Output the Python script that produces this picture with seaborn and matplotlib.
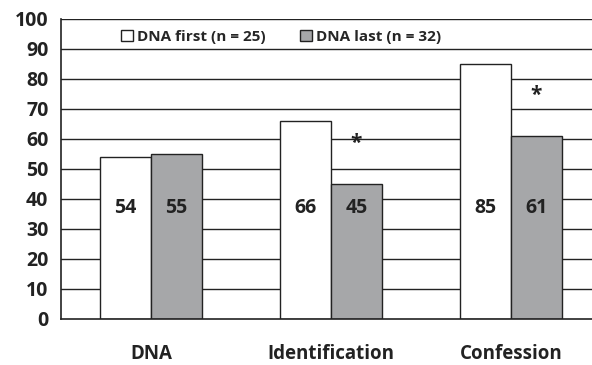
import numpy as np
import pandas as pd
import matplotlib
matplotlib.use("Agg")
from matplotlib import pyplot as plt
import seaborn as sns

categories = ["DNA", "Identification", "Confession"]
groups = ["DNA first (n = 25)", "DNA last (n = 32)"]
dna_first = [54, 66, 85]
dna_last = [55, 45, 61]
significant = [False, True, True]

data = pd.DataFrame({
    "category": categories * 2,
    "group": [groups[0]] * 3 + [groups[1]] * 3,
    "value": dna_first + dna_last,
})

sns.set_style("white")
plt.rcParams["font.family"] = ["Open Sans", "DejaVu Sans"]

fig = plt.figure(figsize=(5.92, 3.65), dpi=100)
ax = fig.add_axes([61 / 592, 1 - 319 / 365, 540 / 592, 300 / 365])

sns.barplot(
    data=data, x="category", y="value", hue="group",
    palette=["white", "#a6a7a9"], width=0.567, saturation=1.0,
    edgecolor="#222222", linewidth=1.0, ax=ax, zorder=3, legend=True,
)

ax.set_ylim(0, 100)
ax.set_xlim(-0.5, 2.5)
ax.set_yticks(np.arange(0, 101, 10))
for y in np.arange(10, 101, 10):
    ax.axhline(y, color="#222222", lw=1.0, zorder=1)

# bar value labels
for cont in ax.containers:
    for rect in cont:
        ax.text(rect.get_x() + rect.get_width() / 2, 37, "%d" % rect.get_height(),
                ha="center", va="center", fontsize=14, weight="bold",
                color="#222222", zorder=5)

# significance markers
for i, sig in enumerate(significant):
    if sig:
        rect = ax.containers[1][i]
        ax.text(rect.get_x() + rect.get_width() / 2, rect.get_height() + 13.5, "*",
                ha="center", va="center", fontsize=15, weight="bold", color="#222222")

ax.set_xlabel("")
ax.set_ylabel("")
ax.set_xticks([0, 1, 2])
ax.set_xticklabels(categories, fontsize=13.5, weight="bold", color="#222222")
ax.tick_params(axis="x", length=0, pad=18)
ax.set_xticks([-0.5, 0.5, 1.5, 2.5], minor=True)
ax.tick_params(axis="x", which="minor", length=6, width=1, color="#222222", direction="out")
ax.tick_params(axis="y", length=6, width=1, color="#222222", direction="out",
               labelsize=14, labelcolor="#222222", pad=3)
plt.setp(ax.get_yticklabels(), weight="bold")

for s in ["top", "right"]:
    ax.spines[s].set_visible(False)
for s in ["left", "bottom"]:
    ax.spines[s].set_color("#222222")
    ax.spines[s].set_linewidth(1.2)
    ax.spines[s].set_zorder(4)

leg = ax.legend(loc="upper left", bbox_to_anchor=(0.085, 1.01), ncol=2, frameon=False,
                handlelength=0.8, handleheight=0.8, handletextpad=0.3,
                columnspacing=2.2, prop={"weight": "bold", "size": 11})
for h in leg.legend_handles:
    h.set_edgecolor("#222222")
    h.set_linewidth(1.0)

fig.savefig("out.png", dpi=100)
